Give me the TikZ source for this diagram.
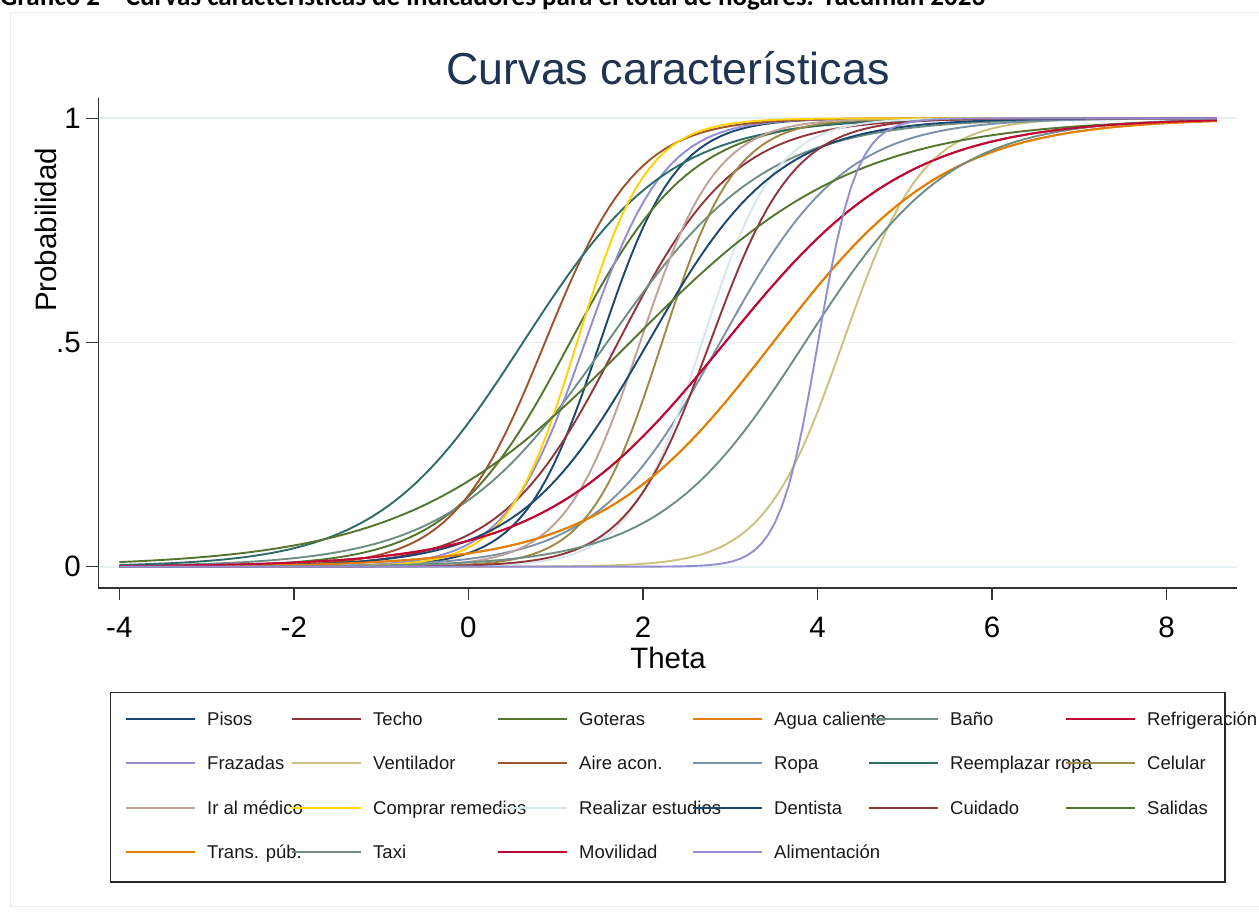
\documentclass[tikz,border=0pt]{standalone}
\usepackage{fontspec}
\setmainfont{Liberation Sans}
\newfontfamily\capfont{Carlito}
\definecolor{snavy}{RGB}{26,71,111}
\definecolor{smaroon}{RGB}{144,53,59}
\definecolor{sforest}{RGB}{85,117,47}
\definecolor{sdkorange}{RGB}{227,126,0}
\definecolor{steal}{RGB}{110,142,132}
\definecolor{scranberry}{RGB}{193,5,52}
\definecolor{slavender}{RGB}{147,141,210}
\definecolor{skhaki}{RGB}{202,194,126}
\definecolor{ssienna}{RGB}{160,82,45}
\definecolor{semidblue}{RGB}{123,146,168}
\definecolor{semerald}{RGB}{45,109,102}
\definecolor{sbrown}{RGB}{156,136,71}
\definecolor{serose}{RGB}{191,161,156}
\definecolor{sgold}{RGB}{255,210,0}
\definecolor{sbluishgray}{RGB}{217,230,235}
\definecolor{titlecol}{RGB}{30,52,82}
\definecolor{gridcol}{RGB}{230,239,241}
\definecolor{framecol}{RGB}{238,238,238}
\newcommand{\icc}[3]{\draw[curveline,#1] plot[domain=-4:8.577,samples=160] ({119.3+(\x+4)*87.28},{351.3+448.4/(1+exp(min(9,max(-9,-#2*(\x-(#3))))))});}
\newcommand{\legitem}[5]{\draw[keyline,#2] (#3,#4) -- ++(69,0);
  \node[legtext,anchor=base west] (#1) at (#3+81,#4-6.5) {#5};}
\begin{document}
\begin{tikzpicture}[x=1pt,y=1pt,
  curveline/.style={line width=1.9pt},
  keyline/.style={line width=2.2pt},
  legtext/.style={inner sep=0pt,font=\fontsize{18.5}{22}\selectfont,text=black!90},
  ticklab/.style={inner sep=0pt,font=\fontsize{29.5}{34}\selectfont},
  axisline/.style={line width=1.5pt,draw=black!80},
  gridline/.style={line width=1.8pt,draw=gridcol}]
\useasboundingbox (0,0) rectangle (1259,918);
\fill[white] (0,0) rectangle (1259,918);
% cut-off caption
\node[anchor=base west,inner sep=0pt] (caption) at (0,912) {\resizebox{985pt}{!}{\capfont\bfseries Gráfico 2 – Curvas características de indicadores para el total de hogares. Tucumán 2023}};
% graph region frame
\draw[line width=0.8pt,draw=framecol] (10,906) rectangle (1270,12);
% title
\node[inner sep=0pt,font=\fontsize{44.8}{54}\selectfont,text=titlecol] (title) at (668,850) {Curvas características};
% grid
\draw[gridline] (100,799.7) -- (1237,799.7);
\draw[gridline] (100,575.5) -- (1237,575.5);
\draw[gridline] (100,351.3) -- (1237,351.3);
% curves (Stata order)
\icc{snavy}{2.3}{1.508}
\icc{smaroon}{1.5}{1.714}
\icc{sforest}{1.45}{1.164}
\icc{sdkorange}{1.0}{3.49}
\icc{steal}{1.1}{1.588}
\icc{scranberry}{0.95}{2.94}
\icc{slavender}{2.2}{1.336}
\icc{skhaki}{2.2}{4.291}
\icc{ssienna}{1.9}{0.877}
\icc{semidblue}{1.4}{2.883}
\icc{semerald}{1.2}{0.625}
\icc{sbrown}{2.4}{2.218}
\icc{serose}{2.3}{1.966}
\icc{sgold}{2.5}{1.244}
\icc{sbluishgray}{2.4}{2.676}
\icc{snavy}{1.35}{2.058}
\icc{smaroon}{2.1}{2.768}
\icc{sforest}{0.78}{1.851}
\icc{sdkorange}{1.0}{3.49}
\icc{steal}{1.2}{3.857}
\icc{scranberry}{0.95}{2.94}
\icc{slavender}{4.5}{4.005}
% axes
\draw[axisline] (98.7,820) -- (98.7,330) -- (1237,330);
\foreach \p/\lab [count=\i] in {799.7/1,575.5/.5,351.3/0}{
  \draw[axisline] (86,\p) -- (98.7,\p);
  \node[ticklab,anchor=east] (ylab\i) at (81,\p) {\lab};
}
\foreach \t [count=\i] in {-4,-2,0,2,4,6,8}{
  \draw[axisline] ({119.3+(\t+4)*87.28},330) -- ({119.3+(\t+4)*87.28},318);
  \node[ticklab] (xlab\i) at ({119.3+(\t+4)*87.28},291) {\t};
}
\node[ticklab] (xtitle) at (668,260) {Theta};
\node[ticklab,rotate=90] (ytitle) at (46,688) {Probabilidad};
% legend
\draw[line width=1.5pt,draw=black!85] (110.7,225.7) rectangle (1225,36);
\legitem{l1}{snavy}{126}{199}{Pisos}
\legitem{l2}{smaroon}{292}{199}{Techo}
\legitem{l3}{sforest}{498}{199}{Goteras}
\legitem{l4}{sdkorange}{693}{199}{Agua caliente}
\legitem{l5}{steal}{869}{199}{Baño}
\legitem{l6}{scranberry}{1066}{199}{Refrigeración}
\legitem{l7}{slavender}{126}{155}{Frazadas}
\legitem{l8}{skhaki}{292}{155}{Ventilador}
\legitem{l9}{ssienna}{498}{155}{Aire acon.}
\legitem{l10}{semidblue}{693}{155}{Ropa}
\legitem{l11}{semerald}{869}{155}{Reemplazar ropa}
\legitem{l12}{sbrown}{1066}{155}{Celular}
\legitem{l13}{serose}{126}{110}{Ir al médico}
\legitem{l14}{sgold}{292}{110}{Comprar remedios}
\legitem{l15}{sbluishgray}{498}{110}{Realizar estudios}
\legitem{l16}{snavy}{693}{110}{Dentista}
\legitem{l17}{smaroon}{869}{110}{Cuidado}
\legitem{l18}{sforest}{1066}{110}{Salidas}
\legitem{l19}{sdkorange}{126}{66}{Trans. púb.}
\legitem{l20}{steal}{292}{66}{Taxi}
\legitem{l21}{scranberry}{498}{66}{Movilidad}
\legitem{l22}{slavender}{693}{66}{Alimentación}
\end{tikzpicture}
\end{document}
